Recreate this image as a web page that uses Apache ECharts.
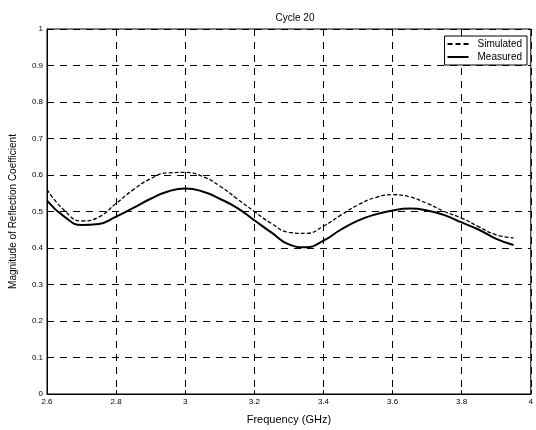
<!DOCTYPE html>
<html><head><meta charset="utf-8">
<script src="https://cdn.jsdelivr.net/npm/echarts@6/dist/echarts.min.js"></script>
<style>html,body{margin:0;padding:0;background:#fff}#c{width:536px;height:430px}</style>
</head><body><div id="c"></div>
<script>
var freq = [2.60,2.65,2.70,2.75,2.80,2.85,2.90,2.95,3.00,3.05,3.10,3.15,3.20,3.25,3.30,3.35,3.40,3.45,3.50,3.55,3.60,3.65,3.70,3.75,3.80,3.85,3.90,3.95];
var simulated = [0.560,0.503,0.474,0.485,0.522,0.560,0.590,0.606,0.607,0.596,0.570,0.535,0.500,0.467,0.443,0.440,0.460,0.490,0.518,0.538,0.546,0.540,0.522,0.500,0.482,0.458,0.436,0.428];
var measured = [0.530,0.486,0.463,0.466,0.486,0.510,0.535,0.555,0.563,0.555,0.535,0.510,0.476,0.442,0.410,0.402,0.420,0.450,0.475,0.492,0.503,0.508,0.503,0.490,0.470,0.450,0.425,0.408];
var title = 'Cycle 20';
var xName = 'Frequency (GHz)';
var yName = 'Magnitude of Reflection Coefficient';

function pairs(ys){ return freq.map(function(f,i){ return [f, ys[i]]; }); }
var font = 'Liberation Sans, Arial, sans-serif';
var dashIcon = 'path://M0,0h5v2h-5z M8,0h5v2h-5z M16,0h5v2h-5z';
var solidIcon = 'path://M0,0h21v2h-21z';
var chart = echarts.init(document.getElementById('c'));
chart.setOption({
  animation:false,
  backgroundColor:'#fff',
  title:{text:title,left:290,top:8,textAlign:'center',textStyle:{fontFamily:font,fontSize:10,fontWeight:'normal',color:'#000'}},
  legend:{right:9,top:36,orient:'vertical',itemGap:3,itemWidth:23,itemHeight:2,
    backgroundColor:'#fff',borderColor:'#000',borderWidth:1,padding:[3,5,3,3],
    textStyle:{fontFamily:font,fontSize:10,lineHeight:10,color:'#000',padding:[0,0,0,3]},
    data:[{name:'Simulated',icon:dashIcon},{name:'Measured',icon:solidIcon}]},
  grid:{left:46,right:3,top:29,bottom:33,show:true,borderColor:'#000',borderWidth:1},
  xAxis:{type:'value',min:2.6,max:4,interval:0.2,
    name:xName,nameLocation:'middle',nameGap:20,
    nameTextStyle:{fontFamily:font,fontSize:11,color:'#000'},
    axisLine:{lineStyle:{color:'#000'}},
    axisTick:{inside:true,length:4,lineStyle:{color:'#000'}},
    axisLabel:{fontFamily:font,fontSize:8,color:'#000',margin:4,
      formatter:function(v){return String(Math.round(v*10)/10);}},
    splitLine:{show:true,lineStyle:{color:'#000',type:[7,6],width:1}}},
  yAxis:{type:'value',min:0,max:1,interval:0.1,
    name:yName,nameLocation:'middle',nameGap:29,
    nameTextStyle:{fontFamily:font,fontSize:10,color:'#000'},
    axisLine:{lineStyle:{color:'#000'}},
    axisTick:{inside:true,length:4,lineStyle:{color:'#000'}},
    axisLabel:{fontFamily:font,fontSize:8,color:'#000',margin:4,
      formatter:function(v){return String(Math.round(v*10)/10);}},
    splitLine:{show:true,lineStyle:{color:'#000',type:[7,6],width:1}}},
  series:[
    {name:'Simulated',type:'line',smooth:true,symbol:'none',data:pairs(simulated),
      lineStyle:{color:'#000',width:1.3,type:[4,2]},itemStyle:{color:'#000'}},
    {name:'Measured',type:'line',smooth:true,symbol:'none',data:pairs(measured),
      lineStyle:{color:'#000',width:2},itemStyle:{color:'#000'}}
  ]
});
</script></body></html>
